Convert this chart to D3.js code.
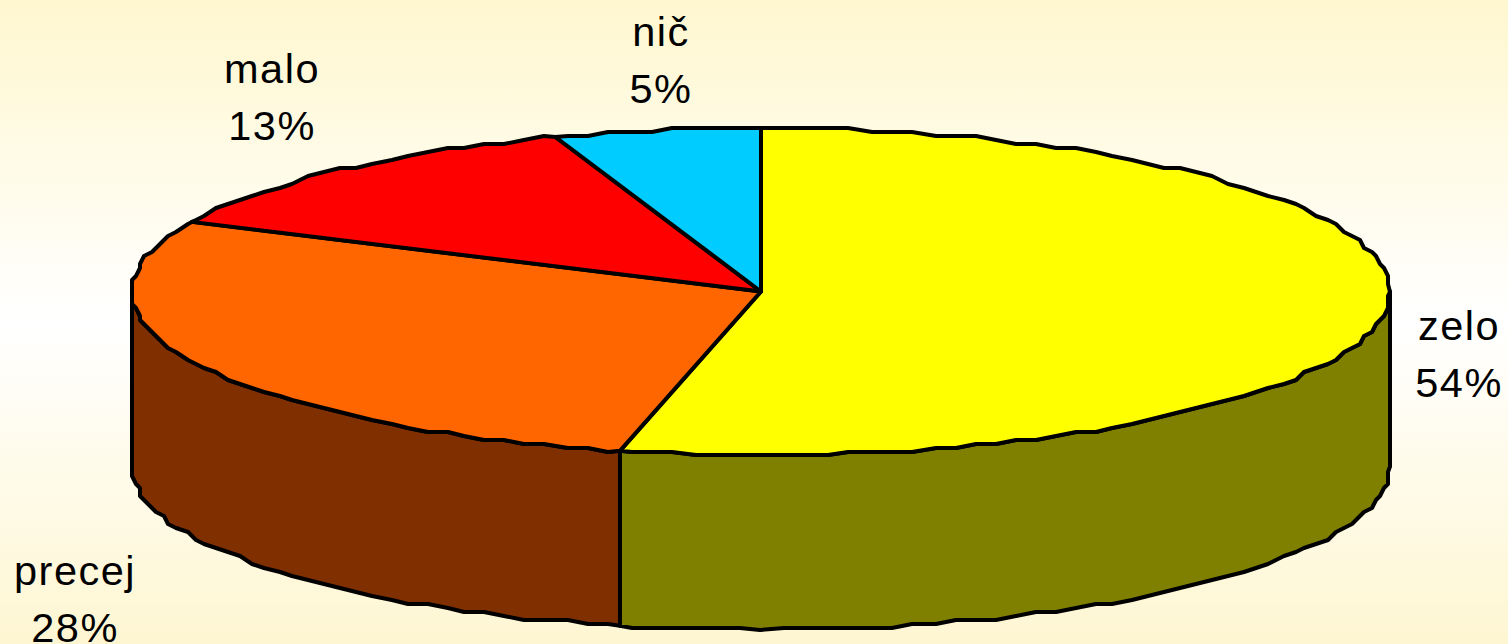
<!DOCTYPE html>
<meta charset="utf-8">
<style>
html, body { margin: 0; padding: 0; overflow: hidden; }
text { font-family: "Liberation Sans", Arial, sans-serif; font-size: 41.5px; letter-spacing: 1.5px; fill: #000; text-anchor: middle; }
</style>
<body>
<script src="https://d3js.org/d3.v7.min.js"></script>
<script>

var width = 1508,
    height = 644;

// data, shares read from the slice edges (the labels show them rounded)
var categories = ["zelo", "precej", "malo", "nič"];
var values = [53.6, 28.4, 12.7, 5.3];
var topColors = ["#ffff00", "#ff6600", "#ff0000", "#00ccff"];
var sideColors = ["#808000", "#803000", "#800000", "#006680"];

var depth = 175,
    grid = 4, // the original outline is a coarse, stepped ellipse
    step = Math.PI / 90;

var x = d3.scaleLinear().domain([-1, 1]).range([132, 1390]),
    y = d3.scaleLinear().domain([-1, 1]).range([128, 455]);

var svg = d3.select("body").append("svg")
    .attr("width", width)
    .attr("height", height)
    .style("display", "block");

var grad = svg.append("defs").append("linearGradient")
    .attr("id", "bg")
    .attr("x1", 0).attr("x2", 0).attr("y1", 0).attr("y2", 1);
grad.append("stop").attr("offset", "0%").attr("stop-color", "#fff7cf");
grad.append("stop").attr("offset", "50%").attr("stop-color", "#ffffff");
grad.append("stop").attr("offset", "100%").attr("stop-color", "#fef6d2");

svg.append("rect")
    .attr("width", width)
    .attr("height", height)
    .attr("fill", "url(#bg)");

var pie = d3.pie().sort(null)(values);

var line = d3.line();

function snap(v) {
  return Math.round(v / grid) * grid;
}

// point on the rim, a = 0 at 12 o'clock, clockwise
function rim(a, dy) {
  return [x(Math.sin(a)), y(-Math.cos(a)) + dy];
}

// stepped rim between two angles; samples sit on one shared angle grid
// so neighbouring faces follow the same outline
function rimSteps(a0, a1, dy) {
  var pts = [rim(a0, dy)],
      k = Math.ceil(a0 / step + 0.01);
  for (; k * step < a1 - 0.01; k++) {
    var p = rim(k * step, dy);
    pts.push([
      Math.min(x.range()[1], Math.max(x.range()[0], snap(p[0]))),
      Math.min(y.range()[1] + dy, Math.max(y.range()[0] + dy, snap(p[1])))
    ]);
  }
  pts.push(rim(a1, dy));
  return pts;
}

// side walls, only the front half shows
var front = pie.map(function(d, i) {
  var a0 = Math.max(d.startAngle, Math.PI / 2),
      a1 = Math.min(d.endAngle, 3 * Math.PI / 2);
  return {a0: a0, a1: a1, i: i};
}).filter(function(d) { return d.a1 > d.a0; });

svg.selectAll(".side")
  .data(front)
  .join("path")
    .attr("class", "side")
    .attr("fill", function(d) { return sideColors[d.i]; })
    .attr("stroke", "#000")
    .attr("stroke-width", 4)
    .attr("stroke-linejoin", "round")
    .attr("d", function(d) {
      var top = rimSteps(d.a0, d.a1, 0),
          bottom = rimSteps(d.a0, d.a1, depth).reverse();
      return line(top.concat(bottom)) + "Z";
    });

// top face
svg.selectAll(".slice")
  .data(pie)
  .join("path")
    .attr("class", "slice")
    .attr("fill", function(d, i) { return topColors[i]; })
    .attr("stroke", "#000")
    .attr("stroke-width", 4)
    .attr("stroke-linejoin", "round")
    .attr("d", function(d) {
      var pts = rimSteps(d.startAngle, d.endAngle, 0);
      pts.unshift([x(0), y(0)]);
      return line(pts) + "Z";
    });

// labels sit by hand round the pie, as in the original
var labelPos = [[1459, 340], [75, 585], [272, 83], [661, 46]];
var lineGap = 57;

var labels = svg.selectAll(".label")
  .data(categories)
  .join("text")
    .attr("class", "label")
    .attr("x", function(d, i) { return labelPos[i][0]; })
    .attr("y", function(d, i) { return labelPos[i][1]; });

labels.append("tspan").text(function(d) { return d; });
labels.append("tspan")
    .attr("x", function(d, i) { return labelPos[i][0]; })
    .attr("dy", lineGap)
    .text(function(d, i) { return Math.round(values[i]) + "%"; });

</script>
